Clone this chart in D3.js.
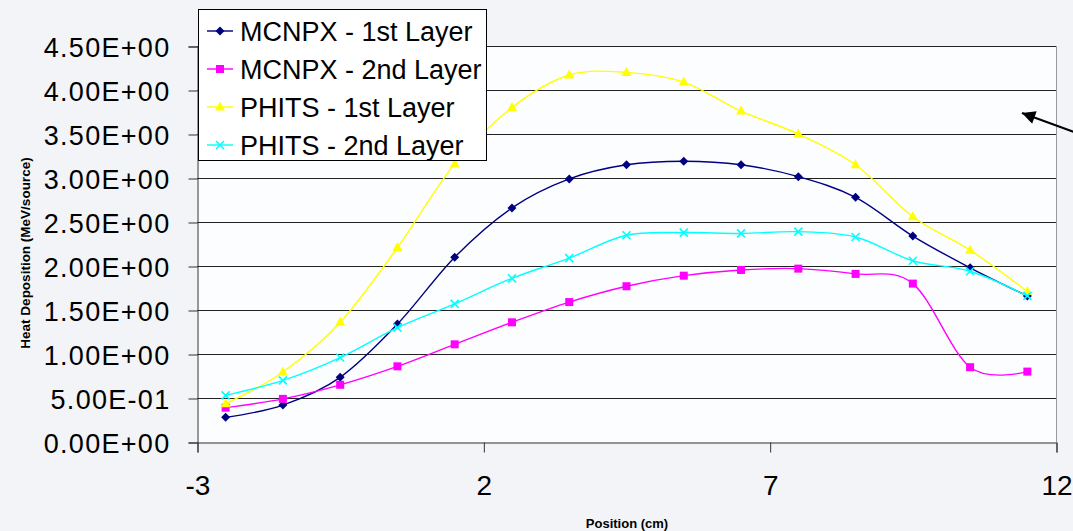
<!DOCTYPE html>
<html>
<head>
<meta charset="utf-8">
<script src="https://cdn.jsdelivr.net/npm/d3@7"></script>
<style>
html,body{margin:0;padding:0;background:#f2f4f7;}
svg{display:block;}
text{font-family:"Liberation Sans",Arial,sans-serif;fill:#000;}
</style>
</head>
<body>
<svg id="chart" width="1073" height="531"></svg>
<script>
const positions = [-2.5, -1.5, -0.5, 0.5, 1.5, 2.5, 3.5, 4.5, 5.5, 6.5, 7.5, 8.5, 9.5, 10.5, 11.5];
const mcnpx1 = [0.28, 0.42, 0.735, 1.34, 2.10, 2.66, 2.99, 3.15, 3.19, 3.15, 3.015, 2.78, 2.34, 1.98, 1.66];
const mcnpx2 = [0.39, 0.49, 0.65, 0.86, 1.11, 1.36, 1.59, 1.77, 1.89, 1.955, 1.97, 1.91, 1.80, 0.85, 0.80];
const phits1 = [0.435, 0.795, 1.36, 2.21, 3.16, 3.80, 4.17, 4.20, 4.09, 3.76, 3.50, 3.15, 2.56, 2.18, 1.71];
const phits2 = [0.53, 0.70, 0.96, 1.30, 1.57, 1.86, 2.09, 2.35, 2.38, 2.37, 2.39, 2.33, 2.06, 1.94, 1.66];
const seriesNames = ["MCNPX - 1st Layer", "MCNPX - 2nd Layer", "PHITS - 1st Layer", "PHITS - 2nd Layer"];
const yTicks = [0, 0.5, 1, 1.5, 2, 2.5, 3, 3.5, 4, 4.5];
const yTickLabels = ["0.00E+00", "5.00E-01", "1.00E+00", "1.50E+00", "2.00E+00", "2.50E+00", "3.00E+00", "3.50E+00", "4.00E+00", "4.50E+00"];
const xTicks = [-3, 2, 7, 12];
const xTickLabels = ["-3", "2", "7", "12"];
const xTitle = "Position (cm)";
const yTitle = "Heat Deposition (MeV/source)";

const series = [
  {name: seriesNames[0], values: mcnpx1, color: "#000080", marker: "diamond"},
  {name: seriesNames[1], values: mcnpx2, color: "#ff00ff", marker: "square"},
  {name: seriesNames[2], values: phits1, color: "#ffff00", marker: "triangle"},
  {name: seriesNames[3], values: phits2, color: "#00ffff", marker: "cross"}
];

const svg = d3.select("#chart");
const x = d3.scaleLinear().domain([-3, 12]).range([197, 1056]);
const y = d3.scaleLinear().domain([0, 4.5]).range([442, 46]);

// plot area
svg.append("rect").attr("x", x(-3)).attr("y", y(4.5)).attr("width", x(12) - x(-3)).attr("height", y(0) - y(4.5))
  .attr("fill", "#fcfdfe");

// gridlines
svg.append("g").selectAll("line").data(yTicks.filter(d => d > 0)).join("line")
  .attr("x1", x(-3)).attr("x2", x(12))
  .attr("y1", d => Math.round(y(d)) + 0.5).attr("y2", d => Math.round(y(d)) + 0.5)
  .attr("stroke", "#222").attr("stroke-width", 1);

// right border
svg.append("line").attr("x1", x(12) + 0.5).attr("x2", x(12) + 0.5).attr("y1", y(4.5)).attr("y2", y(0))
  .attr("stroke", "#999");

// y axis
const yAxis = d3.axisLeft(y).tickValues(yTicks).tickSize(9).tickPadding(18)
  .tickFormat((d, i) => yTickLabels[i]);
const gy = svg.append("g").attr("transform", `translate(${x(-3) + 0.5},0.5)`).call(yAxis);
gy.select(".domain").attr("stroke", "#333");
gy.selectAll(".tick line").attr("stroke", "#333");
gy.selectAll(".tick text").attr("font-size", 27).style("font-family", "'Liberation Sans', Arial, sans-serif")
  .attr("fill", "#000").attr("dy", "0.36em").attr("letter-spacing", 1.3);

// x axis
const xAxis = d3.axisBottom(x).tickValues(xTicks).tickSize(10).tickPadding(23)
  .tickFormat((d, i) => xTickLabels[i]);
const gx = svg.append("g").attr("transform", `translate(0.5,${y(0) + 0.5})`).call(xAxis);
gx.select(".domain").attr("stroke", "#333");
gx.selectAll(".tick line").attr("stroke", "#333");
gx.selectAll(".tick text").attr("font-size", 28).style("font-family", "'Liberation Sans', Arial, sans-serif").attr("fill", "#000");

// axis titles
svg.append("text").attr("x", 627).attr("y", 528).attr("text-anchor", "middle")
  .attr("font-size", 13).attr("font-weight", "bold").text(xTitle);
svg.append("text").attr("transform", "translate(30,253) rotate(-90)").attr("text-anchor", "middle")
  .attr("font-size", 13.5).attr("font-weight", "bold").text(yTitle);

// lines
const line = d3.line().x(d => x(d[0])).y(d => y(d[1])).curve(d3.curveCardinal.tension(0));

function drawMarker(g, type, color, cx, cy) {
  if (type === "diamond") {
    g.append("path").attr("d", `M${cx},${cy - 4.5}L${cx + 4.5},${cy}L${cx},${cy + 4.5}L${cx - 4.5},${cy}Z`).attr("fill", color);
  } else if (type === "square") {
    g.append("rect").attr("x", cx - 4).attr("y", cy - 4).attr("width", 8).attr("height", 8).attr("fill", color);
  } else if (type === "triangle") {
    g.append("path").attr("d", `M${cx},${cy - 5.5}L${cx + 5},${cy + 3.5}L${cx - 5},${cy + 3.5}Z`).attr("fill", color);
  } else {
    g.append("path").attr("d", `M${cx - 4},${cy - 4}L${cx + 4},${cy + 4}M${cx + 4},${cy - 4}L${cx - 4},${cy + 4}`)
      .attr("stroke", color).attr("stroke-width", 1.6).attr("fill", "none");
  }
}

series.forEach(s => {
  const pts = positions.map((p, i) => [p, s.values[i]]);
  svg.append("path").datum(pts).attr("d", line).attr("fill", "none").attr("stroke", s.color).attr("stroke-width", 1.4);
  const g = svg.append("g");
  pts.forEach(p => drawMarker(g, s.marker, s.color, x(p[0]), y(p[1])));
});

// legend
const lg = svg.append("g");
lg.append("rect").attr("x", 198.5).attr("y", 9.5).attr("width", 288).attr("height", 151)
  .attr("fill", "#ffffff").attr("stroke", "#000").attr("stroke-width", 1);
series.forEach((s, i) => {
  const cy = 31 + i * 38;
  lg.append("line").attr("x1", 207).attr("x2", 233).attr("y1", cy).attr("y2", cy)
    .attr("stroke", s.color).attr("stroke-width", 2).attr("opacity", 0.7);
  drawMarker(lg, s.marker, s.color, 220, cy);
  lg.append("text").attr("x", 240).attr("y", cy).attr("dy", "0.36em").attr("font-size", 27).text(s.name);
});

// arrow annotation
const defs = svg.append("defs");
defs.append("marker").attr("id", "arrowhead").attr("viewBox", "0 0 10 10").attr("refX", 10).attr("refY", 5)
  .attr("markerWidth", 7).attr("markerHeight", 6).attr("markerUnits", "strokeWidth").attr("orient", "auto")
  .append("path").attr("d", "M0,0L10,5L0,10Z").attr("fill", "#000");
svg.append("line").attr("x1", 1074).attr("y1", 132).attr("x2", 1022).attr("y2", 113)
  .attr("stroke", "#000").attr("stroke-width", 2.2).attr("marker-end", "url(#arrowhead)");
</script>
</body>
</html>
